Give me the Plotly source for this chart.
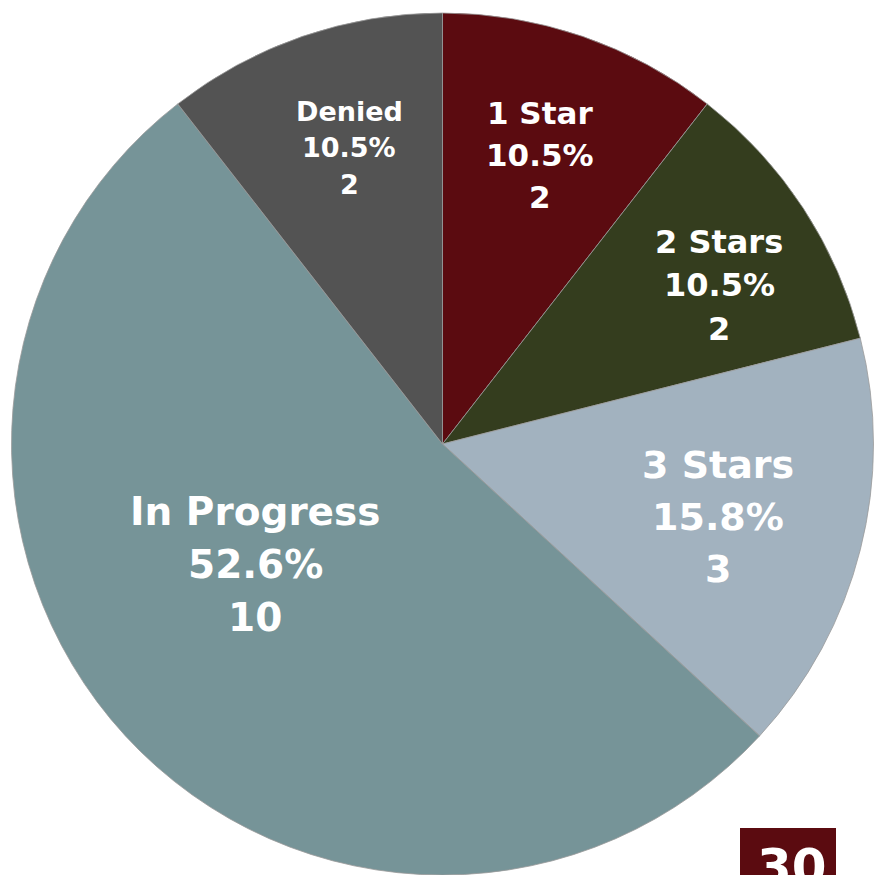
import math
import plotly.graph_objects as go

# Review status breakdown
categories = ["1 Star", "2 Stars", "3 Stars", "In Progress", "Denied"]
counts = [2, 2, 3, 10, 2]
slice_colors = ["#5b0b10", "#343d1e", "#a2b2bf", "#769498", "#535353"]
page_number = "30"

# Label styling / placement per slice (font size, radius as a fraction of the pie
# radius, small angular nudge in degrees from the slice's mid-angle)
label_sizes = [31, 32, 38, 39, 27]
label_radius = [0.708, 0.74, 0.661, 0.517, 0.72]
label_nudge = [-0.3, 3.3, 0.6, 9.8, 1.5]
LINE_GAP = 1.36

W, H = 874, 875
ML, MR, MT, MB = 11, 0, 13, 0
PW, PH = W - ML - MR, H - MT - MB


def px_x(px):
    return (px - ML) / PW


def px_y(py):
    return (H - MB - py) / PH


fig = go.Figure(
    go.Pie(
        labels=categories,
        values=counts,
        sort=False,
        direction="clockwise",
        rotation=0,
        marker=dict(colors=slice_colors, line=dict(color="#9a9a9a", width=0.8)),
        textinfo="none",
        hoverinfo="label+percent+value",
        showlegend=False,
    )
)

# Slice labels: name, share and count stacked on three lines
cx, cy = ML + PW / 2, MT + PH / 2
R = min(PW, PH) / 2
total = sum(counts)
start = 0.0
for name, n, size, rf, nudge in zip(categories, counts, label_sizes, label_radius, label_nudge):
    span = 360.0 * n / total
    ang = math.radians(start + span / 2 + nudge)
    start += span
    x = cx + rf * R * math.sin(ang)
    y = cy - rf * R * math.cos(ang)
    lines = [name, f"{100 * n / total:.1f}%", f"{n}"]
    for i, line in enumerate(lines):
        fig.add_annotation(
            text=line, xref="paper", yref="paper",
            x=px_x(x), y=px_y(y + (i - 1) * LINE_GAP * size),
            xanchor="center", yanchor="middle", showarrow=False,
            font=dict(family="DejaVu Sans", color="white", size=size, weight="bold"),
        )

# Page number badge in the lower right corner
fig.add_shape(
    type="rect", xref="paper", yref="paper",
    x0=px_x(740), x1=px_x(836), y0=px_y(885), y1=px_y(828),
    fillcolor="#5b0b10", line=dict(width=0), layer="above",
)
fig.add_annotation(
    text=page_number, xref="paper", yref="paper",
    x=px_x(792), y=px_y(836), xanchor="center", yanchor="top",
    showarrow=False,
    font=dict(family="DejaVu Sans", color="white", size=50, weight="bold"),
)

fig.update_layout(
    width=W, height=H,
    margin=dict(l=ML, r=MR, t=MT, b=MB, pad=0),
    paper_bgcolor="white",
    plot_bgcolor="white",
)

fig.write_html("out.html")
